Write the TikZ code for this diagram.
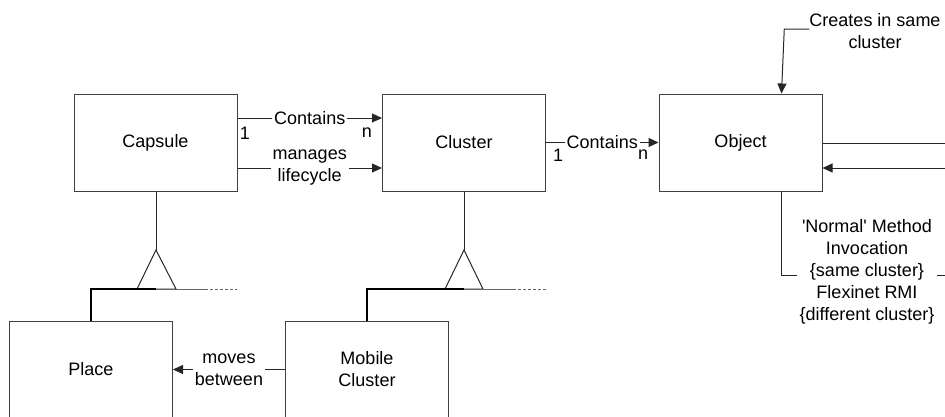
\documentclass[tikz,border=0pt]{standalone}
\usepackage{fontspec}
\setmainfont{Liberation Sans}[Ligatures=TeXOff]
\usetikzlibrary{arrows.meta,calc}
\begin{document}
\begin{tikzpicture}[x=1pt,y=-1pt,
  font=\fontsize{18}{22}\selectfont,
  box/.style={draw=black!75, line width=1pt, minimum width=163pt,
    minimum height=97pt, inner sep=0pt, align=center},
  link/.style={draw=black!85, line width=1pt},
  arr/.style={link, -{Triangle[length=10pt,width=9pt]}},
  lbl/.style={fill=white, inner sep=2pt, align=center},
  card/.style={inner sep=0pt},
  heavy/.style={draw=black, line width=2.2pt},
  tail/.style={draw=black!60, line width=1pt},
  etc/.style={draw=black!60, line width=1pt, dash pattern=on 3pt off 2pt}]

\useasboundingbox (0,0) rectangle (945,416);
\clip (0,0) rectangle (945,416);

% classes
\node[box] (capsule) at (155.5,142.5) {Capsule};
\node[box] (cluster) at (464,142.5) {Cluster};
\node[box] (object)  at (740.5,142.5) {Object};
\node[box] (place)   at (91,369.5) {Place};
\node[box] (mobile)  at (367,369.5) {Mobile\\Cluster};

% Capsule -> Cluster associations
\draw[arr] (capsule.east |- 0,118) -- node[lbl]{Contains} (cluster.west |- 0,118);
\node[card] (c1) at (245,133) {1};
\node[card] (cn) at (367,133) {n};
\draw[arr] (capsule.east |- 0,168) -- node[lbl]{manages\\lifecycle} (cluster.west |- 0,168);

% Cluster -> Object
\draw[arr] (cluster.east) -- node[lbl]{Contains} (object.west);
\node[card] (d1) at (558,155) {1};
\node[card] (dn) at (643,155) {n};

% Object: creation loop
\node[align=center, inner sep=0pt] (creates) at (875,31) {Creates in same\\cluster};
\coordinate (objtop) at ($(object.north west)+(123,0)$);
\draw[arr] (creates.west |- 0,29) -- ++(-25,0) -- (objtop);

% Object: invocations leaving and entering on the right
\coordinate (outR) at (945,143);
\coordinate (inR) at (945,168);
\draw[link] (object.east |- outR) -- (outR);
\draw[arr] (inR) -- (object.east |- inR);

% Object: method invocation
\coordinate (objbot) at ($(object.south west)+(123,0)$);
\coordinate (invR) at (945,275);
\draw[link] (objbot) |- (invR);
\node[lbl, inner sep=3pt] (invoke) at (867,272)
  {'Normal' Method\\Invocation\\\{same cluster\}\\Flexinet RMI\\\{different cluster\}};

% generalisation: Place is a Capsule
\coordinate (g1) at (156,250);
\coordinate (g1b) at (156,289);
\draw[link] (capsule.south -| g1) -- (g1);
\draw[link, line join=miter] (g1) -- (137,289) -- (176,289) -- cycle;
\draw[heavy] (place.north) |- (g1b);
\draw[tail] (g1b) -- (205,289);
\draw[etc] (205,289) -- (237,289);

% generalisation: Mobile Cluster is a Cluster
\coordinate (g2) at (464,250);
\coordinate (g2b) at (464,289);
\draw[link] (cluster.south) -- (g2);
\draw[link, line join=miter] (g2) -- (445,289) -- (483,289) -- cycle;
\draw[heavy] (mobile.north) |- (g2b);
\draw[tail] (g2b) -- (513,289);
\draw[etc] (513,289) -- (546,289);

% Mobile Cluster moves between Places
\draw[arr] (mobile.west) -- node[lbl]{moves\\between} (place.east);
\end{tikzpicture}
\end{document}
